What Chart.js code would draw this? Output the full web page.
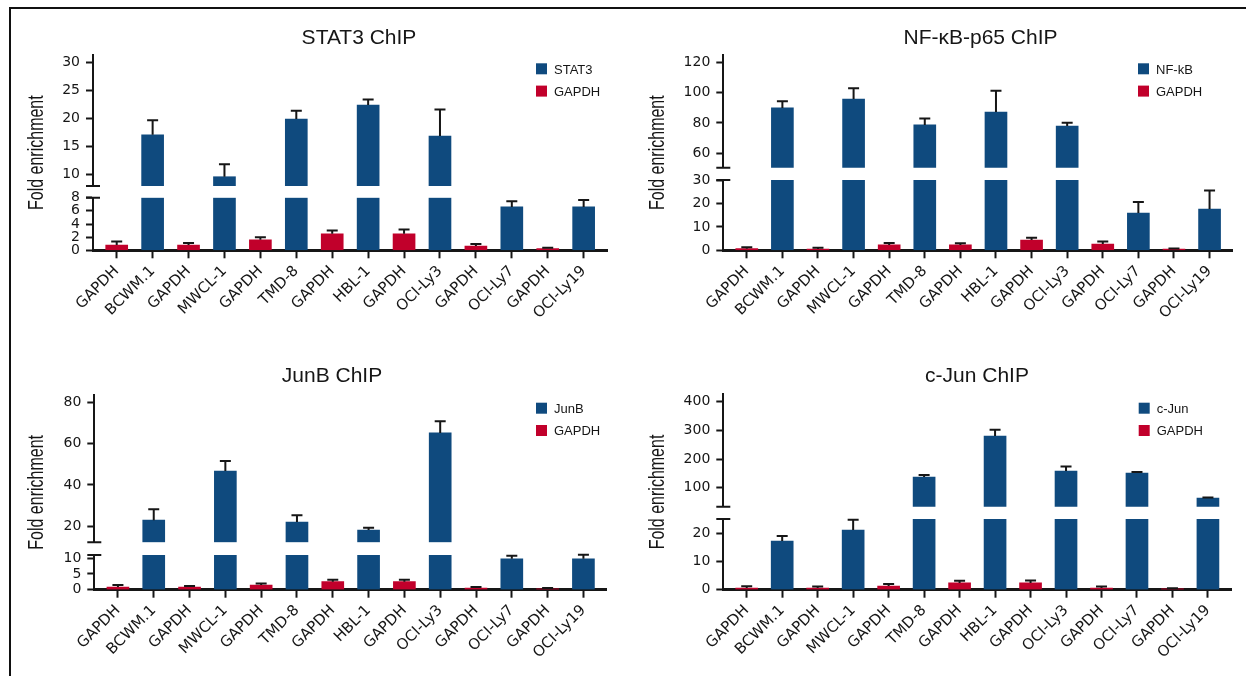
<!DOCTYPE html>
<html>
<head>
<meta charset="utf-8">
<script src="https://cdn.jsdelivr.net/npm/chart.js@4.4.1/dist/chart.umd.min.js"></script>
<style>
  html, body { margin: 0; padding: 0; background: #fff; }
  body { width: 1246px; height: 676px; position: relative; overflow: hidden; }
  .frame { position: absolute; left: 9px; top: 7px; width: 1300px; height: 700px; border-left: 2px solid #111; border-top: 2px solid #111; }
  .panel { position: absolute; width: 623px; height: 338px; }
</style>
</head>
<body>
<div class="frame"></div>
<div class="panel" style="left:0;top:0"><canvas id="stat3"></canvas></div>
<div class="panel" style="left:623px;top:0"><canvas id="nfkb"></canvas></div>
<div class="panel" style="left:0;top:338px"><canvas id="junb"></canvas></div>
<div class="panel" style="left:623px;top:338px"><canvas id="cjun"></canvas></div>
<script>
const LABELS = ["GAPDH", "BCWM.1", "GAPDH", "MWCL-1", "GAPDH", "TMD-8", "GAPDH", "HBL-1", "GAPDH", "OCI-Ly3", "GAPDH", "OCI-Ly7", "GAPDH", "OCI-Ly19"];

const STAT3_VALUES = [0.8, 17.1, 0.8, 9.65, 1.6, 19.9, 2.5, 22.4, 2.5, 16.9, 0.65, 6.6, 0.25, 6.6];
const STAT3_ERRORS = [0.55, 2.6, 0.3, 2.2, 0.4, 1.5, 0.5, 1.0, 0.65, 4.7, 0.3, 0.85, 0.15, 1.05];
const STAT3_TICKS_LOW = [0, 2, 4, 6, 8];
const STAT3_TICKS_HIGH = [10, 15, 20, 25, 30];

const NFKB_VALUES = [0.7, 89.9, 0.55, 95.8, 2.3, 78.7, 2.3, 87.2, 4.4, 78.0, 2.7, 15.9, 0.5, 17.6];
const NFKB_ERRORS = [0.6, 4.4, 0.55, 7.0, 0.85, 4.2, 0.7, 14.1, 1.0, 2.2, 1.1, 4.7, 0.3, 7.9];
const NFKB_TICKS_LOW = [0, 10, 20, 30];
const NFKB_TICKS_HIGH = [60, 80, 100, 120];

const JUNB_VALUES = [0.85, 23.0, 0.85, 46.7, 1.5, 22.1, 2.55, 18.2, 2.55, 65.1, 0.55, 9.8, 0.3, 9.8];
const JUNB_ERRORS = [0.65, 5.3, 0.3, 4.8, 0.5, 3.2, 0.6, 1.1, 0.6, 5.6, 0.3, 0.95, 0.2, 1.3];
const JUNB_TICKS_LOW = [0, 5, 10];
const JUNB_TICKS_HIGH = [20, 40, 60, 80];

const CJUN_VALUES = [0.6, 17.3, 0.6, 21.2, 1.3, 137, 2.4, 280, 2.4, 158, 0.6, 151, 0.35, 64];
const CJUN_ERRORS = [0.6, 1.8, 0.5, 3.6, 0.7, 7, 0.8, 22, 0.9, 16, 0.5, 3.5, 0.2, 2];
const CJUN_TICKS_LOW = [0, 10, 20];
const CJUN_TICKS_HIGH = [100, 200, 300, 400];

const BLUE = "#0f4a7e";
const RED = "#c1002b";
const INK = "#161616";
const SANS = "'Liberation Sans', Arial, sans-serif";
const WIDE = "'DejaVu Sans', sans-serif";

// layout of each panel, in canvas pixels; axis ranges of the two segments of the broken axis
const PANELS = [
  { id: "stat3", title: "STAT3 ChIP", target: "STAT3", values: STAT3_VALUES, errors: STAT3_ERRORS,
    lowTicks: STAT3_TICKS_LOW, highTicks: STAT3_TICKS_HIGH, lowMax: 8, highMin: 8, highMax: 31.3,
    weights: [131, 11.7, 52.6], yWidth: 93, top: 55, right: 16, xHeight: 87.7,
    titleX: 359, legendX: 536, legendY: 63.3, axisTitleX: 37 },
  { id: "nfkb", title: "NF-κB-p65 ChIP", target: "NF-kB", values: NFKB_VALUES, errors: NFKB_ERRORS,
    lowTicks: NFKB_TICKS_LOW, highTicks: NFKB_TICKS_HIGH, lowMax: 30, highMin: 50.5, highMax: 124.8,
    weights: [112.7, 12.3, 70.3], yWidth: 100.3, top: 55, right: 13.3, xHeight: 87.7,
    titleX: 357.5, legendX: 515, legendY: 63.3, axisTitleX: 35 },
  { id: "junb", title: "JunB ChIP", target: "JunB", values: JUNB_VALUES, errors: JUNB_ERRORS,
    lowTicks: JUNB_TICKS_LOW, highTicks: JUNB_TICKS_HIGH, lowMax: 11, highMin: 12.3, highMax: 83.4,
    weights: [147.3, 12.7, 34.7], yWidth: 94.3, top: 57, right: 16.3, xHeight: 86.3,
    titleX: 332, legendX: 536, legendY: 64.7, axisTitleX: 37 },
  { id: "cjun", title: "c-Jun ChIP", target: "c-Jun", values: CJUN_VALUES, errors: CJUN_ERRORS,
    lowTicks: CJUN_TICKS_LOW, highTicks: CJUN_TICKS_HIGH, lowMax: 25.1, highMin: 33.7, highMax: 425.8,
    weights: [112.4, 12.3, 70.7], yWidth: 100.3, top: 56.3, right: 15, xHeight: 86.3,
    titleX: 354, legendX: 515.7, legendY: 64.7, axisTitleX: 35 },
];

const isRef = LABELS.map((l) => l === "GAPDH");

// error bars, axis break marks, title, legend and y title
function makeDecor(p) {
  return {
    id: "decor",
    afterDatasetsDraw(chart) {
      const { ctx } = chart;
      const { x, yLow, yHigh } = chart.scales;
      ctx.save();
      ctx.strokeStyle = INK;
      ctx.lineWidth = 2;
      p.values.forEach((v, i) => {
        const s = v > p.highMin ? yHigh : yLow;
        const px = x.getPixelForValue(i);
        const y0 = s.getPixelForValue(v);
        const y1 = s.getPixelForValue(v + p.errors[i]);
        ctx.beginPath();
        ctx.moveTo(px, y0);
        ctx.lineTo(px, y1);
        ctx.moveTo(px - 5.5, y1);
        ctx.lineTo(px + 5.5, y1);
        ctx.stroke();
      });
      ctx.restore();
    },
    afterDraw(chart) {
      const { ctx, chartArea } = chart;
      const { yLow, yHigh } = chart.scales;
      ctx.save();
      ctx.strokeStyle = INK;
      ctx.lineWidth = 2;
      ctx.beginPath();
      [yHigh.bottom, yLow.top].forEach((y) => {
        ctx.moveTo(chartArea.left - 7, y);
        ctx.lineTo(chartArea.left + 7, y);
      });
      ctx.stroke();

      ctx.fillStyle = INK;
      ctx.font = `21px ${SANS}`;
      ctx.textAlign = "center";
      ctx.textBaseline = "alphabetic";
      ctx.fillText(p.title, p.titleX, 44);

      [[p.target, BLUE], ["GAPDH", RED]].forEach(([name, col], k) => {
        const y = p.legendY + k * 22.3;
        ctx.fillStyle = col;
        ctx.fillRect(p.legendX, y, 11, 11);
        ctx.fillStyle = INK;
        ctx.font = `13px ${SANS}`;
        ctx.textAlign = "left";
        ctx.fillText(name, p.legendX + 18, y + 10.2);
      });

      ctx.translate(p.axisTitleX, (chartArea.top + chartArea.bottom) / 2);
      ctx.rotate(-Math.PI / 2);
      ctx.scale(1, 1.35);
      ctx.font = `16px ${SANS}`;
      ctx.textAlign = "center";
      ctx.textBaseline = "middle";
      ctx.fillText("Fold enrichment", 0, 0);
      ctx.restore();
    },
  };
}

function yScale(p, ticks, min, max, weight, order) {
  return {
    type: "linear",
    position: "left",
    stack: "y",
    stackWeight: weight,
    weight: order,
    min,
    max,
    afterBuildTicks: (s) => { s.ticks = ticks.map((v) => ({ value: v })); },
    afterFit: (s) => { s.width = p.yWidth; },
    grid: { drawOnChartArea: false, tickLength: 7, tickWidth: 2, tickColor: INK },
    border: { color: INK, width: 2 },
    ticks: { autoSkip: false, padding: 6, color: INK, font: { family: WIDE, size: 14 } },
  };
}

function buildChart(p) {
  const bar = { xAxisID: "x", grouped: false, barThickness: 22, borderWidth: 0 };
  const pts = (ref, fn) => p.values.map((v, i) => ({ x: i, y: fn(v) })).filter((d, i) => isRef[i] === ref && d.y !== null);
  const high = (v) => (v > p.highMin ? v : null);
  const low = (v) => Math.min(v, p.lowMax);

  const datasets = [
    { ...bar, label: p.target, yAxisID: "yHigh", base: p.highMin, backgroundColor: BLUE, data: pts(false, high) },
    { ...bar, label: p.target, yAxisID: "yLow", backgroundColor: BLUE, data: pts(false, low) },
    { ...bar, label: "GAPDH", yAxisID: "yHigh", base: p.highMin, backgroundColor: RED, data: pts(true, high) },
    { ...bar, label: "GAPDH", yAxisID: "yLow", backgroundColor: RED, data: pts(true, low) },
  ];

  new Chart(document.getElementById(p.id), {
    type: "bar",
    data: { datasets },
    plugins: [makeDecor(p)],
    options: {
      responsive: true,
      maintainAspectRatio: false,
      animation: false,
      events: [],
      layout: { padding: { top: p.top, right: p.right, bottom: 0, left: 0 } },
      plugins: { legend: { display: false }, title: { display: false }, tooltip: { enabled: false } },
      scales: {
        x: {
          type: "linear",
          min: -0.66,
          max: 13.65,
          offset: false,
          afterBuildTicks: (s) => { s.ticks = LABELS.map((_, i) => ({ value: i })); },
          afterFit: (s) => { s.height = p.xHeight; },
          grid: { drawOnChartArea: false, offset: false, tickLength: 8, tickWidth: 2, tickColor: INK },
          border: { color: INK, width: 3 },
          ticks: {
            autoSkip: false,
            minRotation: 45,
            maxRotation: 45,
            padding: 4,
            color: INK,
            font: { family: WIDE, size: 15 },
            callback: (v) => LABELS[v],
          },
        },
        yLow: yScale(p, p.lowTicks, 0, p.lowMax, p.weights[2], 1),
        yGap: {
          type: "linear",
          position: "left",
          stack: "y",
          stackWeight: p.weights[1],
          weight: 2,
          afterFit: (s) => { s.width = p.yWidth; },
          grid: { display: false },
          border: { display: false },
          ticks: { display: false },
        },
        yHigh: yScale(p, p.highTicks, p.highMin, p.highMax, p.weights[0], 3),
      },
    },
  });
}

PANELS.forEach(buildChart);
</script>
</body>
</html>
